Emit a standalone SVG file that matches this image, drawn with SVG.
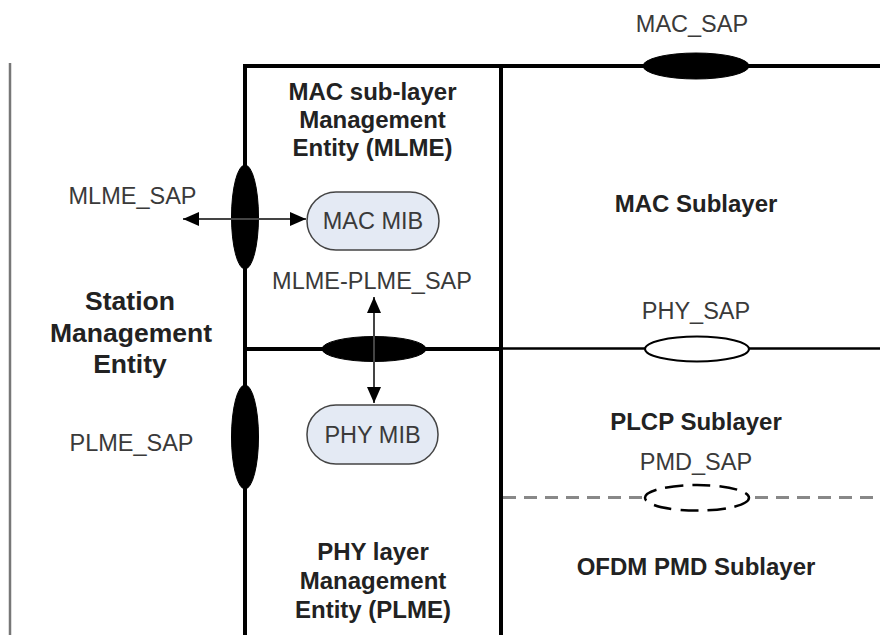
<svg xmlns="http://www.w3.org/2000/svg" width="880" height="635" viewBox="0 0 880 635">
<style>
.t{font-family:"Liberation Sans",Arial,sans-serif;font-size:23.5px;fill:#3a3a3a;text-anchor:middle}
.b{font-family:"Liberation Sans",Arial,sans-serif;font-size:24px;font-weight:bold;fill:#222;text-anchor:middle}
.thick{stroke:#000;stroke-width:4;fill:none}
.sap{fill:#000;stroke:#000;stroke-width:1}
.mib{fill:#e4eaf4;stroke:#444;stroke-width:1.5}
.arr{stroke:#444;stroke-width:2;fill:none;marker-start:url(#ah);marker-end:url(#ah)}
</style>
<defs>
<marker id="ah" viewBox="0 0 16 14" refX="16" refY="7" markerWidth="16" markerHeight="14" markerUnits="userSpaceOnUse" orient="auto-start-reverse">
<path d="M0,0 L16,7 L0,14 Z" fill="#000"/>
</marker>
</defs>
<rect width="880" height="635" fill="#fff"/>
<g id="frame">
<line x1="10" y1="63" x2="10" y2="635" stroke="#777" stroke-width="2.5"/>
<polyline class="thick" points="245,635 245,66 880,66"/>
<line class="thick" x1="501" y1="66" x2="501" y2="635"/>
<line class="thick" x1="245" y1="349" x2="501" y2="349"/>
<line x1="501" y1="348.5" x2="880" y2="348.5" stroke="#000" stroke-width="2.5"/>
<line x1="503" y1="497.5" x2="880" y2="497.5" stroke="#888" stroke-width="3" stroke-dasharray="13,8"/>
</g>
<g id="sme">
<text class="b" x="130" y="310" style="font-size:26.5px">Station</text>
<text class="b" x="131" y="341.5" style="font-size:26.5px">Management</text>
<text class="b" x="130" y="373" style="font-size:26.5px">Entity</text>
</g>
<g id="mlme">
<text class="b" x="372.5" y="100">MAC sub-layer</text>
<text class="b" x="372.5" y="128">Management</text>
<text class="b" x="372.5" y="156">Entity (MLME)</text>
</g>
<g id="plme">
<text class="b" x="373" y="560">PHY layer</text>
<text class="b" x="373" y="589">Management</text>
<text class="b" x="373" y="618">Entity (PLME)</text>
</g>
<g id="mac-sublayer"><text class="b" x="696" y="212">MAC Sublayer</text></g>
<g id="plcp-sublayer"><text class="b" x="696" y="430">PLCP Sublayer</text></g>
<g id="ofdm-pmd-sublayer"><text class="b" x="696" y="575">OFDM PMD Sublayer</text></g>
<g id="mac-sap">
<ellipse class="sap" cx="696" cy="66" rx="53" ry="13"/>
<text class="t" x="692" y="31.5">MAC_SAP</text>
</g>
<g id="phy-sap">
<ellipse cx="697" cy="349" rx="52" ry="12.5" fill="#fff" stroke="#000" stroke-width="2"/>
<text class="t" x="696" y="319">PHY_SAP</text>
</g>
<g id="pmd-sap">
<ellipse cx="697" cy="497.8" rx="52" ry="12.8" fill="#fff" stroke="#000" stroke-width="2.5" stroke-dasharray="18,9"/>
<text class="t" x="696" y="470">PMD_SAP</text>
</g>
<g id="mlme-sap">
<ellipse class="sap" cx="245" cy="217" rx="13.5" ry="52"/>
<text class="t" x="132.5" y="204">MLME_SAP</text>
</g>
<g id="plme-sap">
<ellipse class="sap" cx="245" cy="437" rx="13.5" ry="52"/>
<text class="t" x="131.5" y="451">PLME_SAP</text>
</g>
<g id="mlme-plme-sap">
<ellipse class="sap" cx="374" cy="349" rx="52" ry="12.5"/>
<text class="t" x="372" y="289">MLME-PLME_SAP</text>
</g>
<g id="mac-mib">
<rect class="mib" x="307" y="192" width="132" height="58" rx="29"/>
<text class="t" x="373" y="228.5">MAC MIB</text>
</g>
<g id="phy-mib">
<rect class="mib" x="307" y="405" width="131" height="59" rx="29"/>
<text class="t" x="372.5" y="442.5">PHY MIB</text>
</g>
<g id="connectors">
<line class="arr" x1="183" y1="219" x2="306" y2="219"/>
<line class="arr" x1="374" y1="297" x2="374" y2="403"/>
</g>
</svg>
